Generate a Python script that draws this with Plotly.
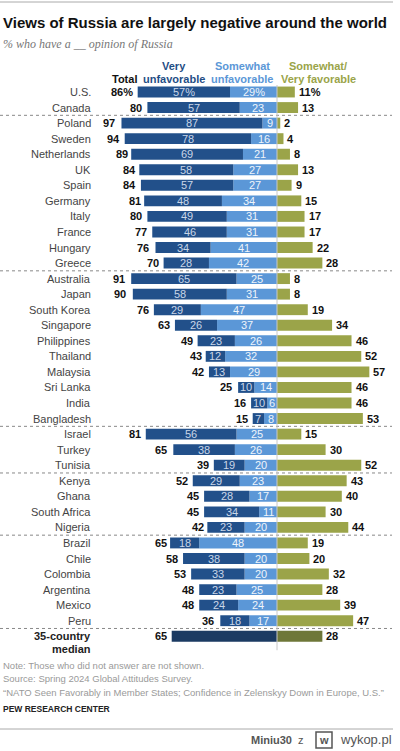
import plotly.graph_objects as go

countries = ["U.S.", "Canada", "Poland", "Sweden", "Netherlands", "UK", "Spain", "Germany", "Italy",
             "France", "Hungary", "Greece", "Australia", "Japan", "South Korea", "Singapore",
             "Philippines", "Thailand", "Malaysia", "Sri Lanka", "India", "Bangladesh", "Israel",
             "Turkey", "Tunisia", "Kenya", "Ghana", "South Africa", "Nigeria", "Brazil", "Chile",
             "Colombia", "Argentina", "Mexico", "Peru"]
total_unfav = [86, 80, 97, 94, 89, 84, 84, 81, 80, 77, 76, 70, 91, 90, 76, 63, 49, 43, 42, 25, 16, 15,
               81, 65, 39, 52, 45, 45, 42, 65, 58, 53, 48, 48, 36]
very_unfav = [57, 57, 87, 78, 69, 58, 57, 48, 49, 46, 34, 28, 65, 58, 29, 26, 23, 12, 13, 10, 10, 7,
              56, 38, 19, 29, 28, 34, 23, 18, 38, 33, 23, 24, 18]
somewhat_unfav = [29, 23, 9, 16, 21, 27, 27, 34, 31, 31, 41, 42, 25, 31, 47, 37, 26, 32, 29, 14, 6, 8,
                  25, 26, 20, 23, 17, 11, 20, 48, 20, 20, 25, 24, 17]
favorable = [11, 13, 2, 4, 8, 13, 9, 15, 17, 17, 22, 28, 8, 8, 19, 34, 46, 52, 57, 46, 46, 53,
             15, 30, 52, 43, 40, 30, 44, 19, 20, 32, 28, 39, 47]
median_label = "35-country"
median_unfav = 65
median_fav = 28
group_breaks = [1.5, 11.5, 21.5, 24.5, 28.5, 34.5]

W, H = 400, 751
ZERO_PX = 277.0
PX_PER = 1.62
ROW0 = 92.0
ROWH = 15.55

def px(sx):
    return sx / W

def py(sy):
    return 1 - sy / H

C_VERY = "#22508a"
C_SOME = "#5b97d7"
C_FAV = "#9ba449"
C_MED_U = "#1b3a62"
C_MED_F = "#6e7738"
TXT = "#3a3a3a"
FONT = "Liberation Sans, Arial, sans-serif"

n = len(countries)
idx = list(range(n))
mi = n  # median row index

fig = go.Figure()
fig.add_trace(go.Bar(y=idx, x=[-v for v in somewhat_unfav], base=0, orientation="h",
                     marker=dict(color=C_SOME, line=dict(width=0)), width=0.7, hoverinfo="skip"))
fig.add_trace(go.Bar(y=idx, x=[-v for v in very_unfav], base=[-s for s in somewhat_unfav], orientation="h",
                     marker=dict(color=C_VERY, line=dict(width=0)), width=0.7, hoverinfo="skip"))
fig.add_trace(go.Bar(y=idx, x=favorable, base=0, orientation="h",
                     marker=dict(color=C_FAV, line=dict(width=0)), width=0.7, hoverinfo="skip"))
fig.add_trace(go.Bar(y=[mi], x=[-median_unfav], base=0, orientation="h",
                     marker=dict(color=C_MED_U, line=dict(width=0)), width=0.7, hoverinfo="skip"))
fig.add_trace(go.Bar(y=[mi], x=[median_fav], base=0, orientation="h",
                     marker=dict(color=C_MED_F, line=dict(width=0)), width=0.7, hoverinfo="skip"))

ann = []
shapes = []

def dann(x, y, text, anchor="center", color=TXT, size=11, bold=False, xshift=0):
    ann.append(dict(x=x, y=y, xref="x", yref="y", text=("<b>%s</b>" % text) if bold else text,
                    showarrow=False, xanchor=anchor, yanchor="middle", xshift=xshift,
                    font=dict(family=FONT, size=size, color=color)))

def pann(sx, sy, text, anchor="left", color=TXT, size=11, family=FONT, yanchor="middle"):
    ann.append(dict(x=px(sx), y=py(sy), xref="paper", yref="paper", text=text, showarrow=False,
                    xanchor=anchor, yanchor=yanchor, font=dict(family=family, size=size, color=color)))

LABEL_X = (93 - ZERO_PX) / PX_PER

for i, c in enumerate(countries):
    pct = "%" if i == 0 else ""
    dann(LABEL_X, i, c, anchor="right", color="#444444", size=11)
    dann(-total_unfav[i], i, "%d%s" % (total_unfav[i], pct), anchor="right", color="#111111",
         size=11, bold=True, xshift=-3)
    dann(-somewhat_unfav[i] - very_unfav[i] / 2, i, "%d%s" % (very_unfav[i], pct),
         color="#c9d6e8", size=11)
    dann(-somewhat_unfav[i] / 2, i, "%d%s" % (somewhat_unfav[i], pct), color="#eef4fb", size=11)
    dann(favorable[i], i, "%d%s" % (favorable[i], pct), anchor="left", color="#111111", size=11,
         bold=True, xshift=2)

dann(LABEL_X, mi, median_label, anchor="right", color="#222222", size=11, bold=True)
dann(LABEL_X, mi + 0.85, "median", anchor="right", color="#222222", size=11, bold=True)
dann(-median_unfav, mi, str(median_unfav), anchor="right", color="#111111", size=11, bold=True, xshift=-3)
dann(median_fav, mi, str(median_fav), anchor="left", color="#111111", size=11, bold=True, xshift=2)

# headers
pann(174, 66, "<b>Very</b>", anchor="center", color="#1f4e85", size=11)
pann(174, 79, "<b>unfavorable</b>", anchor="center", color="#1f4e85", size=11)
pann(242, 66, "<b>Somewhat</b>", anchor="center", color="#5b97d7", size=11)
pann(242, 79, "<b>unfavorable</b>", anchor="center", color="#5b97d7", size=11)
pann(318, 66, "<b>Somewhat/</b>", anchor="center", color="#9aa449", size=11)
pann(318, 79, "<b>Very favorable</b>", anchor="center", color="#9aa449", size=11)
pann(124, 79, "<b>Total</b>", anchor="center", color="#111111", size=11)

# title and subtitle
pann(1, 22, "<b>Views of Russia are largely negative around the world</b>", color="#111111", size=15)
pann(1, 44, "<i>% who have a __ opinion of Russia</i>", color="#777777", size=12,
     family="Liberation Serif, Georgia, serif")

# footer
pann(1, 665, "Note: Those who did not answer are not shown.", color="#9a9a9a", size=9.5)
pann(1, 678, "Source: Spring 2024 Global Attitudes Survey.", color="#9a9a9a", size=9.5)
pann(1, 692, "“NATO Seen Favorably in Member States; Confidence in Zelenskyy Down in Europe, U.S.”",
     color="#9a9a9a", size=9.5)
pann(1, 709, "<b>PEW RESEARCH CENTER</b>", color="#222222", size=8.5)

# watermark
pann(306, 740, "<b>Miniu30</b>  z", anchor="right", color="#555555", size=11)
pann(394, 739, "wykop.pl", anchor="right", color="#555555", size=13)
pann(324, 740, "<b>w</b>", anchor="center", color="#555555", size=11)
shapes.append(dict(type="rect", xref="paper", yref="paper", x0=px(316), x1=px(332),
                   y0=py(748), y1=py(732), line=dict(color="#555555", width=1.5)))

# lines
shapes.append(dict(type="line", xref="paper", yref="paper", x0=0, x1=px(393), y0=py(2), y1=py(2),
                   line=dict(color="#aaaaaa", width=1)))
shapes.append(dict(type="line", xref="paper", yref="paper", x0=0, x1=px(393), y0=py(729), y1=py(729),
                   line=dict(color="#aaaaaa", width=1)))
for b in group_breaks:
    shapes.append(dict(type="line", xref="paper", yref="y", x0=0, x1=px(392), y0=b, y1=b,
                       line=dict(color="#888888", width=1, dash="dot")))
shapes.append(dict(type="line", xref="x", yref="y", x0=0, x1=0, y0=-0.45, y1=mi + 0.9,
                   line=dict(color="#c8c8c8", width=1), layer="above"))

fig.update_layout(
    width=W, height=H, margin=dict(l=0, r=0, t=0, b=0),
    paper_bgcolor="white", plot_bgcolor="white",
    barmode="overlay", showlegend=False, hovermode=False,
    xaxis=dict(range=[-ZERO_PX / PX_PER, (W - ZERO_PX) / PX_PER], visible=False, fixedrange=True),
    yaxis=dict(range=[(H - ROW0) / ROWH, -ROW0 / ROWH], visible=False, fixedrange=True),
    annotations=ann, shapes=shapes,
)

fig.write_html("out.html", config={"displayModeBar": False},
               post_script="document.body.style.margin='0';document.body.style.overflow='hidden';")
